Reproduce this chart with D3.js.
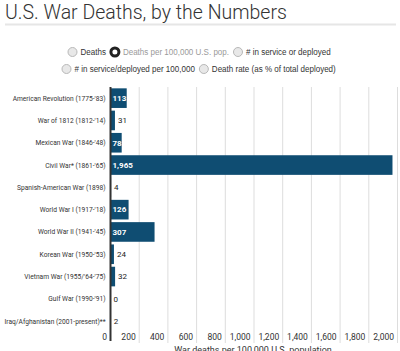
<!DOCTYPE html>
<html>
<head>
<meta charset="utf-8">
<script src="https://cdn.jsdelivr.net/npm/d3@7"></script>
<style>
  body { margin: 0; background: #fff; }
  svg { display: block; }
</style>
</head>
<body>
<svg id="chart" width="400" height="351"></svg>
<script>
// data
var wars = [
  "American Revolution (1775-'83)",
  "War of 1812 (1812-'14)",
  "Mexican War (1846-'48)",
  "Civil War* (1861-'65)",
  "Spanish-American War (1898)",
  "World War I (1917-'18)",
  "World War II (1941-'45)",
  "Korean War (1950-'53)",
  "Vietnam War (1955/'64-'75)",
  "Gulf War (1990-'91)",
  "Iraq/Afghanistan (2001-present)**"
];
var deathsPer100k = [113, 31, 78, 1965, 4, 126, 307, 24, 32, 0, 2];
var xTicks = [0, 200, 400, 600, 800, 1000, 1200, 1400, 1600, 1800, 2000];
var options = [
  ["Deaths", "Deaths per 100,000 U.S. pop.", "# in service or deployed"],
  ["# in service/deployed per 100,000", "Death rate (as % of total deployed)"]
];
var selected = "Deaths per 100,000 U.S. pop.";

var svg = d3.select('#chart');

// title + rule
svg.append('text')
  .attr('x', 5).attr('y', 19)
  .attr('font-family', 'Roboto').attr('font-weight', 300)
  .attr('font-size', 19.5).attr('fill', '#333')
  .text('U.S. War Deaths, by the Numbers');
svg.append('rect')
  .attr('x', 5).attr('y', 23.5).attr('width', 391).attr('height', 2)
  .attr('fill', '#e6e6e6');

// radio rows (text is a bit narrow in the picture, so squeeze it)
var rowY = [52, 69];
var rowStart = [68, 62];
var rowFont = 'Liberation Sans, Arial';
var rowFs = 9;
var probe = svg.append('text').attr('font-family', rowFont).attr('font-size', rowFs).text(options[0].join(''));
var rowSx = (263 - 3 * 8 - 2 * 9 - 4.5) / probe.node().getComputedTextLength();
probe.remove();

options.forEach(function (row, r) {
  var g = svg.append('g').attr('transform', 'translate(' + rowStart[r] + ',' + rowY[r] + ')');
  var x = 4.5;
  row.forEach(function (label) {
    var on = label === selected;
    g.append('circle')
      .attr('cx', x).attr('cy', 0).attr('r', on ? 4 : 4.5)
      .attr('fill', on ? '#fff' : '#e8e8e8')
      .attr('stroke', on ? '#222' : '#b8b8b8')
      .attr('stroke-width', on ? 3 : 1);
    if (on) g.append('circle').attr('cx', x).attr('r', 1.3).attr('fill', '#fff');
    var t = g.append('text')
      .attr('transform', 'translate(' + (x + 8) + ',3.2) scale(' + rowSx + ',1)')
      .attr('font-family', rowFont).attr('font-size', rowFs)
      .attr('fill', on ? '#9a9a9a' : '#333')
      .text(label);
    x += 8 + t.node().getComputedTextLength() * rowSx + 9;
  });
});

// scales
var x = d3.scaleLinear().domain([0, 2000]).range([110.5, 397.5]);
var y = d3.scaleBand().domain(wars).range([87, 332.3]).paddingInner(0.12).paddingOuter(0.06);

// grid
svg.append('g').selectAll('line')
  .data(xTicks.slice(1))
  .join('line')
  .attr('x1', function (d) { return x(d); }).attr('x2', function (d) { return x(d); })
  .attr('y1', 87).attr('y2', 343)
  .attr('stroke', '#ddd').attr('stroke-width', 1);

// x axis labels
var xAxis = d3.axisBottom(x).tickValues(xTicks).tickSize(0).tickFormat(d3.format(','));
var ax = svg.append('g').attr('transform', 'translate(0,333)').call(xAxis);
ax.select('.domain').remove();
ax.selectAll('text')
  .attr('text-anchor', 'end').attr('dx', -4).attr('dy', '0.75em').attr('y', 1)
  .attr('font-family', 'Roboto').attr('font-size', 8.5).attr('fill', '#333');

svg.append('text')
  .attr('x', 253).attr('y', 353)
  .attr('text-anchor', 'middle')
  .attr('font-family', 'Roboto').attr('font-size', 9).attr('fill', '#333')
  .text('War deaths per 100,000 U.S. population');

// category labels, squeezed so the longest one spans ~101px
var catFs = 7.8;
var probe2 = svg.append('text').attr('font-family', 'Roboto').attr('font-size', catFs).text(wars[10]);
var catSx = 101 / probe2.node().getComputedTextLength();
probe2.remove();

var yAxis = d3.axisLeft(y).tickSize(0).tickPadding(0);
var ay = svg.append('g').attr('transform', 'translate(' + (x(0) - 5) + ',0)').call(yAxis);
ay.select('.domain').remove();
ay.selectAll('text')
  .attr('transform', 'scale(' + catSx + ',1)')
  .attr('font-family', 'Roboto').attr('font-size', catFs).attr('fill', '#333');

// bars
svg.append('g').selectAll('rect')
  .data(deathsPer100k)
  .join('rect')
  .attr('x', x(0))
  .attr('y', function (d, i) { return y(wars[i]); })
  .attr('width', function (d) { return x(d) - x(0); })
  .attr('height', y.bandwidth())
  .attr('fill', '#0f4d72');

// zero line
svg.append('line')
  .attr('x1', x(0)).attr('x2', x(0))
  .attr('y1', 87).attr('y2', 341)
  .attr('stroke', '#333').attr('stroke-width', 2);

// value labels
var fmt = d3.format(',');
svg.append('g').selectAll('text')
  .data(deathsPer100k)
  .join('text')
  .attr('x', function (d) { return d >= 70 ? x(0) + 2 : x(d) + 3; })
  .attr('y', function (d, i) { return y(wars[i]) + y.bandwidth() / 2; })
  .attr('dy', '0.35em')
  .attr('font-family', 'Roboto').attr('font-weight', function (d) { return d >= 70 ? 700 : 400; })
  .attr('font-size', 8)
  .attr('fill', function (d) { return d >= 70 ? '#fff' : '#222'; })
  .text(function (d) { return fmt(d); });
</script>
</body>
</html>
